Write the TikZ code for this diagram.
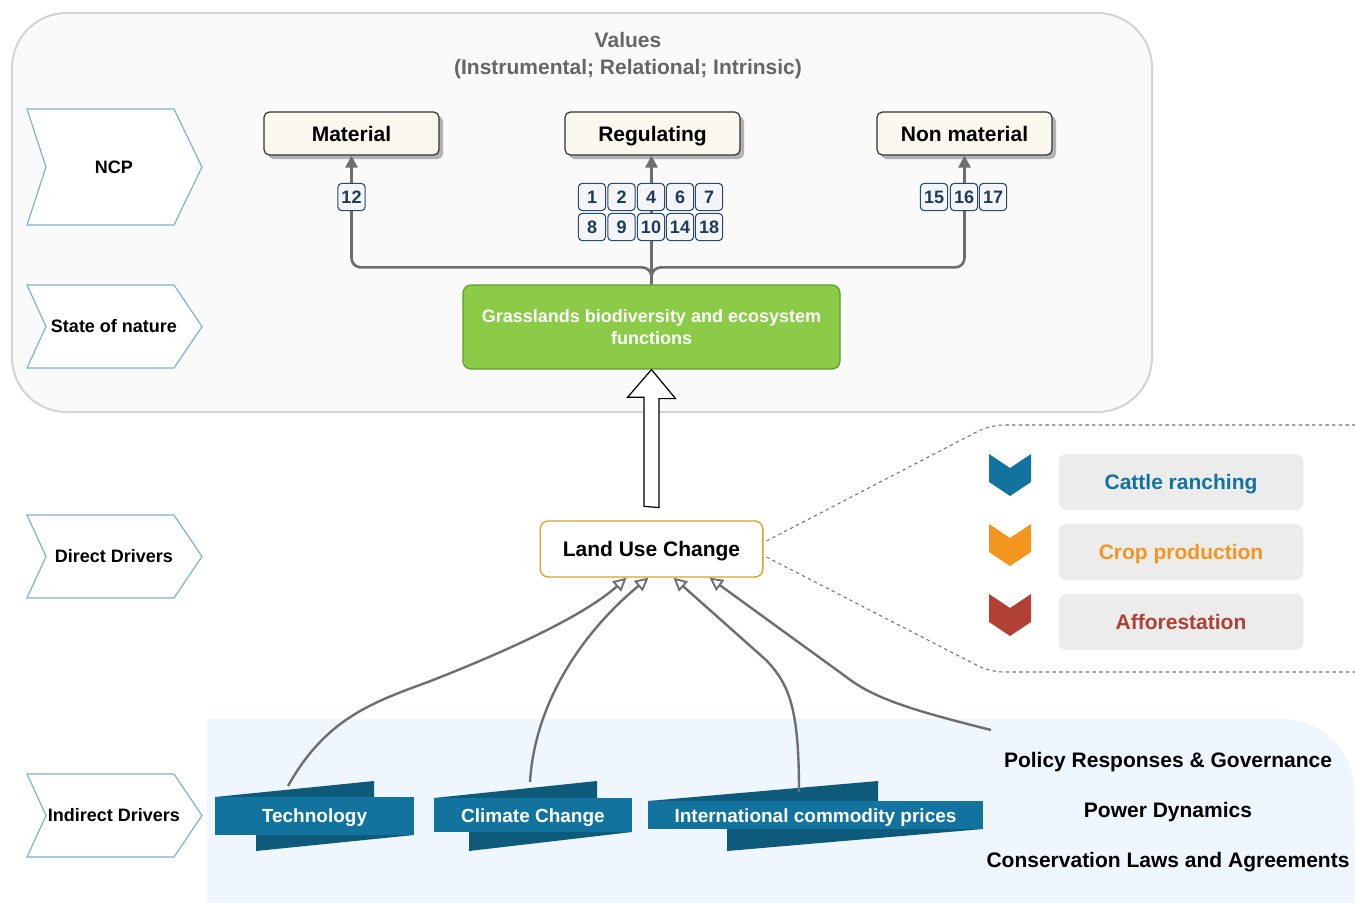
\documentclass[tikz,border=0pt]{standalone}
\usepackage{fontspec}
\setmainfont{Liberation Sans}
\usetikzlibrary{arrows.meta,calc,shadows}
\definecolor{topfill}{HTML}{FAFAFA}
\definecolor{topline}{HTML}{D3D3D3}
\definecolor{chevline}{HTML}{7FB2CE}
\definecolor{ncpfill}{HTML}{F9F7EE}
\definecolor{ncpline}{HTML}{333333}
\definecolor{numfill}{HTML}{F3F5F7}
\definecolor{numline}{HTML}{2A4A6A}
\definecolor{numtext}{HTML}{1E3A5A}
\definecolor{grn}{HTML}{8BCB47}
\definecolor{grnline}{HTML}{5E9E2B}
\definecolor{lucline}{HTML}{D8A22A}
\definecolor{blueA}{HTML}{12739F}
\definecolor{blueD}{HTML}{0E5A7B}
\definecolor{orng}{HTML}{F3961F}
\definecolor{redd}{HTML}{B04134}
\definecolor{grybox}{HTML}{ECECEC}
\definecolor{indbg}{HTML}{EFF6FE}
\definecolor{conngray}{HTML}{6E6E6E}
\definecolor{valgray}{HTML}{666666}
\tikzset{
  f21/.style={font=\bfseries\fontsize{15.75pt}{18pt}\selectfont},
  f19/.style={font=\bfseries\fontsize{14.25pt}{17pt}\selectfont},
  f18/.style={font=\bfseries\fontsize{13.5pt}{16.5pt}\selectfont},
  even/.style={text height=11.3pt, text depth=0pt},
  chevshape/.style={draw=chevline, fill=white, line width=0.9pt},
  ncpbox/.style={draw=ncpline, fill=ncpfill, line width=0.9pt, rounded corners=4pt,
    minimum width=131.25pt, minimum height=32.25pt, f21, even,
    drop shadow={shadow xshift=3pt, shadow yshift=-3pt, fill=black!30, opacity=1}},
  numbox/.style={draw=numline, fill=numfill, line width=0.8pt, rounded corners=3pt,
    minimum width=20.5pt, minimum height=20.5pt, inner sep=0pt, text=numtext, f18,
    text height=9.7pt, text depth=0pt},
  conn/.style={draw=conngray, line width=2pt, rounded corners=7pt,
    -{Triangle[length=9pt, width=9pt]}},
  drv/.style={draw=conngray, line width=1.8pt,
    -{Triangle[open, length=10pt, width=10pt, line width=1.4pt]}},
  dashline/.style={draw=black!55, line width=0.8pt, dash pattern=on 2.5pt off 2.5pt, rounded corners=10pt},
  luse/.style={draw=grybox, fill=grybox, rounded corners=5pt, minimum width=183pt, minimum height=41.25pt, f21, even},
  ribtext/.style={text=white, f19, text height=10.2pt, text depth=0pt},
  sidetext/.style={f21, even},
}
\newcommand\mychev[4]{% name, y1, y2, text
  \draw[chevshape] (27,#2) -- (174,#2) -- (202,{(#2+#3)/2}) -- (174,#3) -- (27,#3) -- (46,{(#2+#3)/2}) -- cycle;
  \node[f18, text height=9.7pt, text depth=0pt] (#1) at (114,{(#2+#3)/2}) {#4};}
\begin{document}
\begin{tikzpicture}[x=0.75pt,y=-0.75pt]
\useasboundingbox (0,0) rectangle (1355,903);
% top container
\draw[topline, fill=topfill, line width=1.5pt, rounded corners=41pt] (12,13) rectangle (1152,412);
% indirect background
\fill[indbg] (207,903) -- (207,719) -- (1282,719) arc[start angle=90, end angle=0, radius=54pt] -- (1355,903) -- cycle;

% values title
\node[f21, text=valgray, even] (values) at (628,40) {Values};
\node[f21, text=valgray, even] (valsub) at (628,67) {(Instrumental; Relational; Intrinsic)};

% left chevrons
\mychev{cncp}{109}{225}{NCP}
\mychev{cstate}{285}{368}{State of nature}
\mychev{cdirect}{515}{598}{Direct Drivers}
\mychev{cindirect}{774}{857}{Indirect Drivers}

% NCP boxes
\node[ncpbox] (mat) at (351.5,133.5) {Material};
\node[ncpbox] (reg) at (652.5,133.5) {Regulating};
\node[ncpbox] (non) at (964.5,133.5) {Non material};

% green box
\node[draw=grnline, fill=grn, line width=0.9pt, rounded corners=6pt, minimum width=282.75pt,
  minimum height=63pt, align=center, text=white, f18] (green) at (651.5,327)
  {Grasslands biodiversity and ecosystem\\functions};

% connectors to NCP
\draw[conn] (green.north) -- ++(0,-17) -| (mat.south);
\draw[conn] (green.north) -- (green.north |- reg.south);
\draw[conn] (green.north) -- ++(0,-17) -| (non.south);

% number boxes
\node[numbox] (n12) at (351.5,197) {12};
\foreach \t/\x in {1/592,2/621.5,4/651,6/680,7/709}{\node[numbox] (n\t) at (\x,197) {\t};}
\foreach \t/\x in {8/592,9/621.5,10/651,14/680,18/709}{\node[numbox] (n\t) at (\x,227) {\t};}
\foreach \t/\x in {15/934,16/964,17/993}{\node[numbox] (n\t) at (\x,197) {\t};}

% land use change
\node[draw=lucline, fill=white, line width=1pt, rounded corners=6pt, minimum width=167pt,
  minimum height=42pt, f21, even] (luc) at (651.5,549) {Land Use Change};

% hollow arrow
\draw[black, fill=white, line width=0.9pt] ($(luc.north)+(-7.5,-14)$) -- ++(0,-109) -- ++(-16.5,0)
  -- (green.south) -- ++(24,29) -- ++(-16.5,0) -- ++(0,109) -- cycle;

% dashed callout
\draw[dashline] ($(luc.east)+(3,-8)$) -- (990,425) -- (1380,425);
\draw[dashline] ($(luc.east)+(3,8)$) -- (990,672) -- (1380,672);

% direct drivers list
\fill[blueA] (989,454) -- (1010,468) -- (1031,454) -- (1031,482) -- (1010,496) -- (989,482) -- cycle;
\fill[orng] (989,524) -- (1010,538) -- (1031,524) -- (1031,552) -- (1010,566) -- (989,552) -- cycle;
\fill[redd] (989,594) -- (1010,608) -- (1031,594) -- (1031,622) -- (1010,636) -- (989,622) -- cycle;
\node[luse, text=blueA] (cattle) at (1181,482) {Cattle ranching};
\node[luse, text=orng] (crop) at (1181,552) {Crop production};
\node[luse, text=redd] (affo) at (1181,622) {Afforestation};

% ribbons
\fill[blueD] (215,797) -- (374,781) -- (374,797) -- cycle;
\fill[blueD] (256,835) -- (256,851) -- (414,835) -- cycle;
\fill[blueA] (215,797) rectangle (414,835);
\node[ribtext] (tech) at (314.5,816) {Technology};

\fill[blueD] (434,798) -- (597,781) -- (597,798) -- cycle;
\fill[blueD] (469,832) -- (469,851) -- (632,832) -- cycle;
\fill[blueA] (434,798) rectangle (632,832);
\node[ribtext] (clim) at (533,815.5) {Climate Change};

\fill[blueD] (648,801) -- (878,781) -- (878,801) -- cycle;
\fill[blueD] (727,829) -- (727,851) -- (983,829) -- cycle;
\fill[blueA] (648,801) rectangle (983,829);
\node[ribtext] (intl) at (815.5,815.5) {International commodity prices};

% side texts
\node[sidetext] (policy) at (1168,760) {Policy Responses \& Governance};
\node[sidetext] (power) at (1168,810) {Power Dynamics};
\node[sidetext] (conslaw) at (1168,860) {Conservation Laws and Agreements};

% driver arrows
\coordinate (s1) at (288,786);
\coordinate (s2) at (530,782);
\coordinate (s3) at (799,792);
\coordinate (s4) at (991,730);
\draw[drv] (s1) .. controls (325,720) and (370,703) .. (428,682)
  .. controls (510,650) and (585,615) .. ($(luc.south)+(-25,0)$);
\draw[drv] (s2) .. controls (535,700) and (585,630) .. ($(luc.south)+(-3,0)$);
\draw[drv] (s3) .. controls (799,710) and (790,685) .. (766,660) -- ($(luc.south)+(22,0)$);
\draw[drv] (s4) .. controls (920,712) and (875,700) .. (845,676) -- ($(luc.south)+(58,0)$);
\end{tikzpicture}
\end{document}
